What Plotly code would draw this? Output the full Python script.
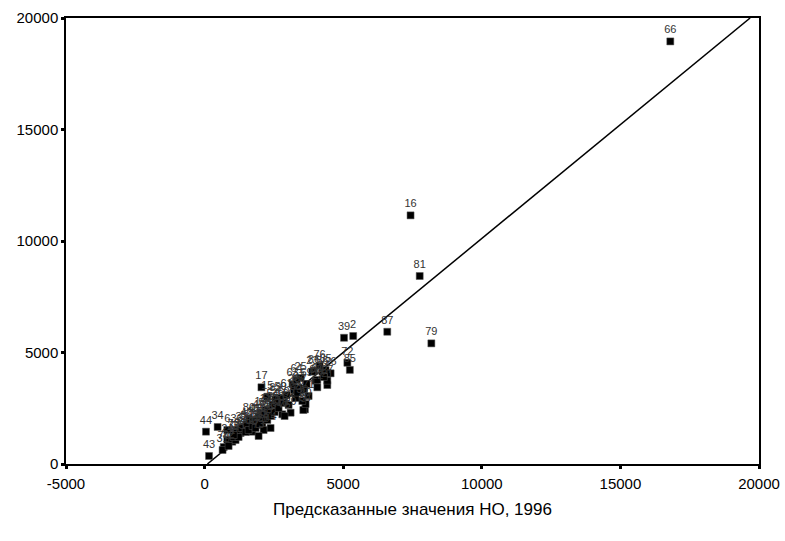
import plotly.graph_objects as go

# Case labels, predicted values (x) and observed values (y)
case_ids = [66, 16, 81, 87, 79, 39, 2, 72, 85, 17, 84, 44, 34, 43, 70,
            24, 5, 19, 29, 25, 7, 3, 88, 56, 65, 89, 86, 1, 4, 6,
            8, 9, 10, 11, 12, 13, 14, 15, 18, 20, 21, 22, 23, 26, 27,
            28, 30, 31, 32, 33, 35, 36, 37, 38, 40, 41, 42, 45, 46, 47,
            48, 49, 50, 51, 52, 53, 54, 55, 57, 58, 59, 60, 61, 62, 63,
            64, 67, 68, 69, 71, 73, 74, 75, 76, 77, 78, 80, 82, 83]
pred_x = [16800, 7430, 7760, 6590, 8180, 5030, 5360, 5150, 5240, 2050, 3620, 50, 470, 160, 690,
          819, 1407, 2020, 3103, 3464, 3583, 3561, 4005, 4247, 4366, 4066, 3944, 999, 1118, 819,
          1299, 1660, 1901, 2200, 2082, 1721, 2262, 2262, 2803, 3644, 4427, 4066, 3886, 4546, 4427,
          3222, 3525, 649, 866, 1046, 1227, 1155, 1335, 1479, 1515, 1588, 1732, 1804, 1840, 1948,
          1984, 2093, 2129, 2165, 2309, 2381, 2453, 2526, 2598, 2670, 2742, 2850, 2959, 3031, 3175,
          3319, 3392, 3283, 3680, 3752, 1948, 2381, 2886, 4150, 4300, 1050, 1600, 2550, 3350]
obs_y = [18950, 11150, 8430, 5930, 5410, 5660, 5740, 4540, 4220, 3440, 2450, 1450, 1660, 360, 760,
         1076, 1673, 2287, 2300, 3856, 3318, 2421, 3736, 4139, 4215, 3767, 4184, 1000, 1076, 1525,
         1390, 1838, 1973, 2421, 1749, 1448, 1973, 3018, 2229, 2690, 3542, 3439, 4139, 4067, 3736,
         3318, 2825, 628, 807, 1211, 1211, 1525, 1614, 1435, 1794, 1525, 1704, 1973, 1614, 2152,
         1794, 2063, 1525, 2242, 2421, 2152, 2646, 2332, 2780, 2511, 2959, 2735, 3094, 2646, 3587,
         3767, 3408, 2959, 3587, 3049, 1256, 1614, 2152, 4400, 3900, 1300, 2000, 2900, 3200]

# Fit line end points
line_x = [100, 19680]
line_y = [0, 20000]

font_family = "Liberation Sans, Arial, sans-serif"

fig = go.Figure()
fig.add_trace(go.Scatter(
    x=line_x, y=line_y, mode="lines",
    line=dict(color="black", width=1.5),
    hoverinfo="skip", showlegend=False))
fig.add_trace(go.Scatter(
    x=pred_x, y=obs_y, mode="markers+text",
    text=[str(c) for c in case_ids], textposition="top center",
    textfont=dict(family=font_family, size=11, color="#333333"),
    marker=dict(symbol="square", size=7, color="black",
                line=dict(color="#555555", width=0.5)),
    showlegend=False, cliponaxis=False))

axis_common = dict(
    showline=True, linecolor="black", linewidth=1.5, mirror=True,
    showgrid=False, zeroline=False, automargin=False,
    ticks="outside", ticklen=3, tickwidth=3, tickcolor="black",
    tickfont=dict(family=font_family, size=15, color="black"),
)

fig.update_layout(
    width=785, height=541,
    margin=dict(l=66, r=26, t=18, b=77),
    paper_bgcolor="white", plot_bgcolor="white",
    xaxis=dict(range=[-5000, 20000], tickvals=[-5000, 0, 5000, 10000, 15000, 20000],
               ticktext=["-5000", "0", "5000", "10000", "15000", "20000"],
               ticklabelstandoff=2,
               title=dict(text="Предсказанные значения НО, 1996",
                          font=dict(family=font_family, size=17, color="black"),
                          standoff=12),
               **axis_common),
    yaxis=dict(range=[0, 20000], tickvals=[0, 5000, 10000, 15000, 20000],
               ticktext=["0", "5000", "10000", "15000", "20000"],
               **axis_common),
)

fig.write_html("out.html")
